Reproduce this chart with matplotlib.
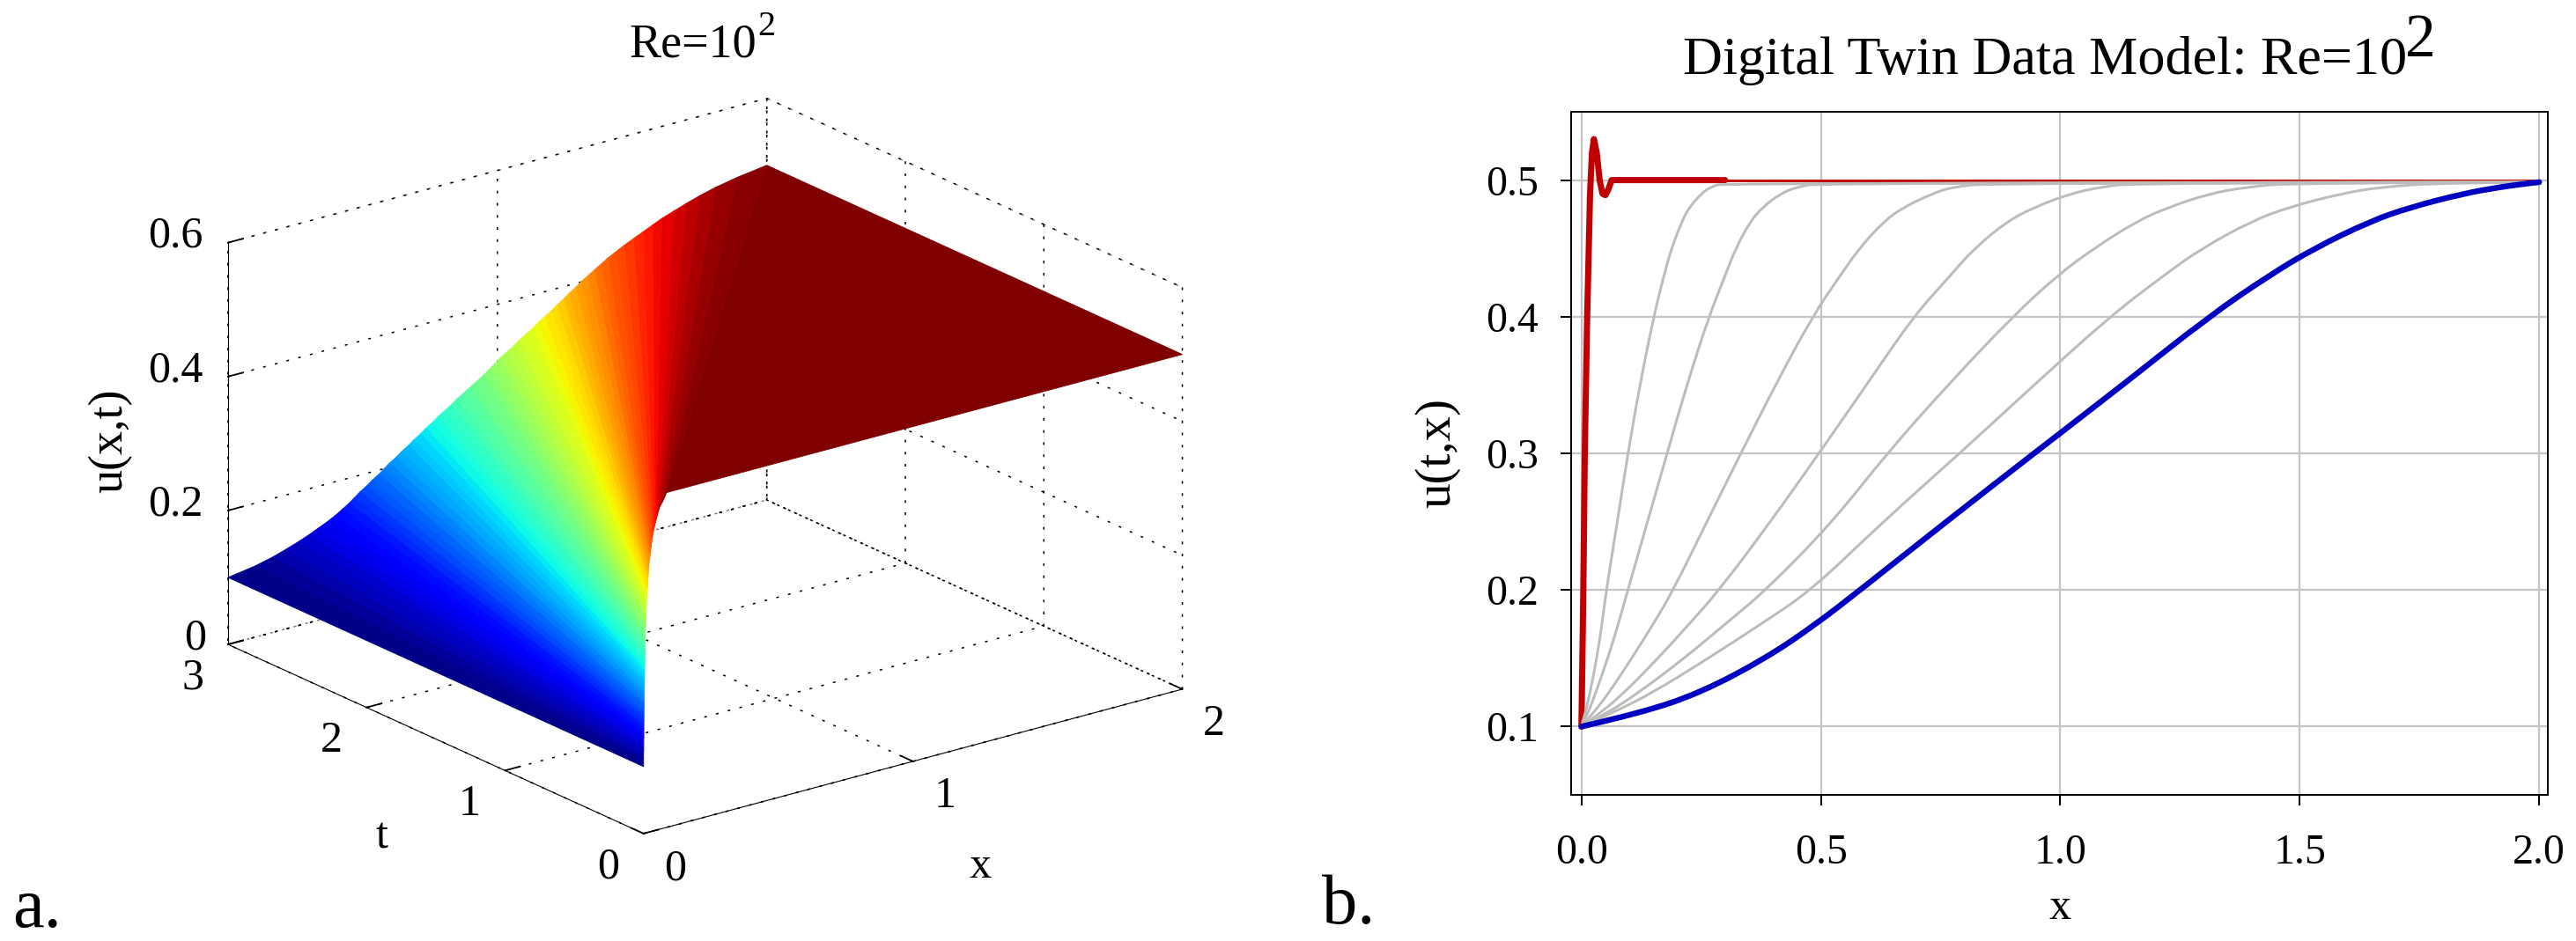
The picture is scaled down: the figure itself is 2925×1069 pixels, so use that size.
#!/usr/bin/env python3
import matplotlib
matplotlib.use('Agg')
import matplotlib.pyplot as plt
import numpy as np
from matplotlib.patches import PathPatch
from matplotlib.path import Path
from mpl_toolkits.mplot3d import proj3d

W, H = 2925, 1069
plt.rcParams['font.family'] = ['Liberation Serif', 'DejaVu Serif']

# panel b: x position of each curve at the levels below
u_levels = [0.1, 0.11, 0.125, 0.15, 0.175, 0.2, 0.25, 0.3, 0.35, 0.4, 0.43, 0.45, 0.47, 0.48, 0.49, 0.495, 0.498, 0.4985]
grey_1 = [0, .008, .018, .032, .043, .052, .075, .097, .122, .151, .172, .188, .21, .225, .25, .27, .297, 2.0]
grey_2 = [0, .014, .03, .055, .077, .097, .138, .179, .22, .266, .30, .322, .353, .378, .415, .45, .50, 2.0]
grey_3 = [0, .025, .058, .105, .15, .192, .262, .333, .405, .482, .54, .58, .632, .672, .732, .775, .86, 2.0]
grey_4 = [0, .04, .09, .16, .225, .288, .395, .496, .595, .693, .77, .82, .89, .945, 1.02, 1.085, 1.16, 2.0]
grey_5 = [0, .055, .12, .215, .30, .386, .525, .638, .765, .90, .993, 1.07, 1.16, 1.225, 1.31, 1.39, 1.49, 2.0]
grey_6 = [0, .065, .15, .265, .375, .481, .63, .79, .945, 1.103, 1.215, 1.295, 1.40, 1.475, 1.585, 1.67, 1.80, 2.0]
grey_curves = [grey_1, grey_2, grey_3, grey_4, grey_5, grey_6]
blue_x = [0, .125, .25, .385, .49, .582, .762, .945, 1.13, 1.31, 1.435, 1.53, 1.648, 1.73, 1.84, 1.92, 1.985, 2.0]

red_x = [0, .004, .007, .012, .018, .022, .026, .032, .038, .044, .05, .056, .063, .07, .30]
red_u = [.1, .2, .3, .4, .49, .52, .53, .52, .5, .49, .489, .493, .5, .5, .5]
red_tail_x = [.30, 2.0]
red_tail_u = [.5, .5]

# panel a: where each level of u sits at t=0 and at t=3
surf_levels = list(np.linspace(0.1, 0.5, 65)) + [0.5]
front_t0 = [0, 0, 0, 0, .0005, .0005, .0005, .001, .001, .001, .001, .0015, .0015, .0015, .002, .002, .002,
            .002, .0025, .003, .003, .0035, .004, .004, .0045, .005, .005, .0055, .006, .006, .0065, .0065, .007,
            .0075, .008, .0085, .009, .0095, .010, .011, .012,
            .013, .014, .015, .016, .017, .018, .019, .02,
            .022, .024, .026, .028, .030, .032, .035, .038,
            .042, .046, .05, .055, .06, .07, .078, .085, 2.0]
front_t3 = [0, .10, .165, .215, .26, .30, .335, .37, .40, .425, .45, .47, .49, .515, .535, .56, .58,
            .60, .625, .645, .67, .69, .715, .735, .76, .78, .805, .83, .85, .875, .90, .925, .95,
            .97, .99, 1.01, 1.035, 1.06, 1.08, 1.105, 1.13,
            1.15, 1.175, 1.20, 1.22, 1.245, 1.265, 1.29, 1.31,
            1.335, 1.36, 1.385, 1.41, 1.44, 1.47, 1.505, 1.54,
            1.575, 1.61, 1.655, 1.70, 1.75, 1.81, 1.89, 2.0, 2.0]
t_edges = [0, 3]

x_ticks = [0, 1, 2]
t_ticks = [0, 1, 2, 3]
z_ticks = [0, 0.2, 0.4, 0.6]
z_labels = ['0', '0.2', '0.4', '0.6']
xb_ticks = [0, 0.5, 1.0, 1.5, 2.0]
yb_ticks = [0.1, 0.2, 0.3, 0.4, 0.5]


def ppt(px):
    return px * 72 / 100


def ftext(x, y, s, size, **kw):
    kw.setdefault('ha', 'center')
    kw.setdefault('va', 'center')
    fig.text(x / W, 1 - y / H, s, fontsize=size, **kw)


def smooth_path(xs, ys):
    # quadratic pieces through the midpoints, so the read points do not show as corners
    pts = np.column_stack([xs, ys])
    verts = [pts[0]]
    codes = [Path.MOVETO]
    for i in range(1, len(pts) - 1):
        end = pts[i + 1] if i == len(pts) - 2 else (pts[i] + pts[i + 1]) / 2
        verts += [pts[i], end]
        codes += [Path.CURVE3, Path.CURVE3]
    return Path(verts, codes)


fig = plt.figure(figsize=(W / 100, H / 100), dpi=100)

# ---- panel a
side = 1162
ax1 = fig.add_axes([204 / W, -57 / H, side / W, side / H], projection='3d', proj_type='ortho')
ax1.patch.set_alpha(0)
ax1.view_init(elev=20.45, azim=-127.5)
ax1.set_box_aspect((771, 775, 487))
ax1.set_xlim(0, 2)
ax1.set_ylim(0, 3)
ax1.set_zlim(0, 0.6)
ax1.set_xticks(x_ticks)
ax1.set_yticks(t_ticks)
ax1.set_zticks(z_ticks)
ax1.set_xticklabels([])
ax1.set_yticklabels([])
ax1.set_zticklabels([])

dots = (0, (2, 7))
for axis in (ax1.xaxis, ax1.yaxis, ax1.zaxis):
    axis.pane.set_facecolor((1, 1, 1, 0))
    axis.pane.set_edgecolor('k')
    axis.pane.set_linestyle(dots)
    axis.pane.set_linewidth(1.1)
    axis._axinfo['grid'].update(color='k', linestyle=dots, linewidth=1.1)
    axis._axinfo['axisline']['linewidth'] = 1.3
    axis._axinfo['axisline']['color'] = 'k'
    axis._axinfo['tick'].update(inward_factor=0.0, outward_factor=0.35, linewidth={True: 1.3, False: 1.0})

front = np.array([front_t0, front_t3]).T
tt = np.tile(np.array(t_edges, dtype=float), (len(surf_levels), 1))
zz = np.array([surf_levels, surf_levels]).T
band = (zz[:-1, :-1] + zz[1:, :-1]) / 2
band_colors = plt.cm.jet((band - 0.1) / 0.4)
ax1.plot_surface(front, tt, zz, rstride=1, cstride=1, facecolors=band_colors, shade=False, linewidth=0.6)

M = ax1.get_proj()


def tick_label(x, t, z, s, dx, dy):
    xp, yp, _ = proj3d.proj_transform(x, t, z, M)
    ax1.annotate(s, (xp, yp), xytext=(ppt(dx), -ppt(dy)), textcoords='offset points',
                 ha='center', va='center', fontsize=36)


for v in x_ticks:
    tick_label(v, 0, 0, str(v), 36, 40)
for v in t_ticks:
    tick_label(0, v, 0, str(v), -40, 38)
for v, s in zip(z_ticks, z_labels):
    tick_label(0, 3, v, s, -37 if v == 0 else -60, -7)

ftext(1113, 985, 'x', 36)
ftext(433, 951, 't', 36)
ftext(125, 501, 'u(x,t)', 39, rotation=90)
ftext(787, 51, 'Re=10', 39)
ftext(870, 30, '2', 29)
ftext(42, 1033, 'a.', 58)

# ---- panel b
ax2 = fig.add_axes([1784 / W, 1 - 903 / H, (2893 - 1784) / W, (903 - 127) / H])
ax2.plot(red_x, red_u, color='#c00000', lw=ppt(7), solid_capstyle='round', zorder=3)
ax2.plot(red_tail_x, red_tail_u, color='#c00000', lw=ppt(3), zorder=3)
for g in grey_curves:
    ax2.add_patch(PathPatch(smooth_path(g, u_levels), fill=False, edgecolor='#bcbcbc', lw=ppt(3), zorder=4))
ax2.add_patch(PathPatch(smooth_path(blue_x, u_levels), fill=False, edgecolor='#0000c0', lw=ppt(6.5),
                        capstyle='round', zorder=5))
ax2.set_xlim(-0.0215, 2.018)
ax2.set_ylim(0.05, 0.55)
ax2.set_xticks(xb_ticks)
ax2.set_xticklabels(['%.1f' % v for v in xb_ticks])
ax2.set_yticks(yb_ticks)
ax2.set_yticklabels(['%.1f' % v for v in yb_ticks])
ax2.grid(color='#c4c4c4', lw=ppt(2.2))
ax2.set_axisbelow(True)
ax2.tick_params(length=ppt(12), width=ppt(2), labelsize=34.5, pad=ppt(25))
ax2.tick_params(axis='x', pad=ppt(32))
for spine in ax2.spines.values():
    spine.set_linewidth(ppt(2))

ftext(2322, 69, 'Digital Twin Data Model: Re=10', 44.7)
ftext(2748, 47, '2', 50)
ftext(2339, 1032, 'x', 36)
ftext(1632, 515, 'u(t,x)', 41, rotation=90)
ftext(1531, 1029, 'b.', 58)

fig.savefig('out.png', dpi=100)
